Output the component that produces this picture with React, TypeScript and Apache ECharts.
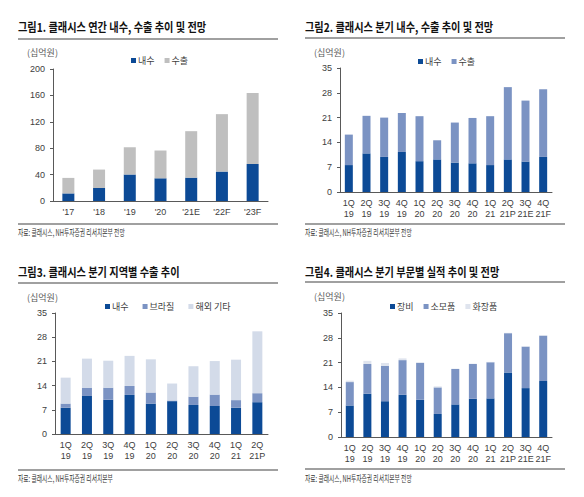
import React, { useEffect, useRef } from "react";
import * as echarts from "echarts";

const annualCats = ["'17", "'18", "'19", "'20", "'21E", "'22F", "'23F"];
const annualDomestic = [11.5, 19.7, 40, 34.4, 35.4, 44.6, 56.2];
const annualExport = [23.5, 27.9, 41.5, 42.1, 70.4, 87.0, 107.3];

const quarterCats = ["1Q\n19", "2Q\n19", "3Q\n19", "4Q\n19", "1Q\n20", "2Q\n20", "3Q\n20", "4Q\n20", "1Q\n21", "2Q\n21P", "3Q\n21E", "4Q\n21F"];
const qDomestic = [7.6, 10.9, 9.9, 11.3, 8.7, 9.2, 8.3, 8.1, 7.6, 9.2, 8.6, 9.9];
const qExport = [8.6, 10.6, 11.1, 11.0, 12.7, 5.4, 11.3, 12.8, 13.8, 20.4, 17.2, 19.1];

const regionCats = ["1Q\n19", "2Q\n19", "3Q\n19", "4Q\n19", "1Q\n20", "2Q\n20", "3Q\n20", "4Q\n20", "1Q\n21", "2Q\n21P"];
const regDomestic = [7.6, 11.0, 9.9, 11.3, 8.8, 9.5, 8.4, 8.1, 7.6, 9.2];
const regBrazil = [1.2, 2.4, 3.5, 2.6, 3.2, 0.2, 2.4, 3.3, 2.2, 2.6];
const regOther = [7.5, 8.4, 7.8, 8.7, 9.6, 4.9, 8.8, 9.7, 11.7, 17.9];

const segEquip = [8.9, 12.2, 10.1, 11.9, 10.5, 6.5, 9.2, 10.8, 10.9, 18.2, 13.8, 15.8];
const segConsum = [6.6, 8.4, 10.0, 9.8, 10.4, 7.5, 10.0, 9.8, 10.2, 11.1, 11.7, 12.8];
const segCosme = [0.4, 0.9, 0.8, 0.5, 0.2, 0.3, 0.1, 0.1, 0.1, 0.1, 0.1, 0.1];

const titles = [
  "그림1. 클래시스 연간 내수, 수출 추이 및 전망",
  "그림2. 클래시스 분기 내수, 수출 추이 및 전망",
  "그림3. 클래시스 분기 지역별 수출 추이",
  "그림4. 클래시스 분기 부문별 실적 추이 및 전망",
];
const sources = [
  "자료: 클래시스, NH투자증권 리서치본부 전망",
  "자료: 클래시스, NH투자증권 리서치본부 전망",
  "자료: 클래시스, NH투자증권 리서치본부",
  "자료: 클래시스, NH투자증권 리서치본부 전망",
];
const unitLabel = "(십억원)";

const DARK = "#0c4a96";
const MID = "#7b93c3";
const LIGHT = "#d3dbe9";
const GRAY = "#bfbfbf";
const KR = '"Noto Sans CJK KR", "Noto Sans", sans-serif';
const NUM = '"Liberation Sans", "Noto Sans CJK KR", sans-serif';

export default function App() {
  const ref = useRef<HTMLDivElement>(null);
  useEffect(() => {
    document.body.style.margin = "0";
    if (!ref.current) return;
    const chart = echarts.init(ref.current, null, { renderer: "svg" });

    const grids = [
      { left: 53, top: 69, width: 215, height: 132 },
      { left: 340, top: 68, width: 212, height: 124 },
      { left: 55, top: 313, width: 213, height: 121 },
      { left: 341, top: 313, width: 211, height: 124 },
    ];
    const catsList = [annualCats, quarterCats, regionCats, quarterCats];
    const axisColor = "#595959";
    const xAxis = catsList.map((cats, i) => ({
      type: "category",
      gridIndex: i,
      data: cats,
      axisLine: { lineStyle: { color: axisColor, width: 1 } },
      axisTick: { length: 3, lineStyle: { color: axisColor } },
      axisLabel: { fontSize: 9, color: "#404040", lineHeight: 11, margin: 5, fontFamily: NUM, interval: 0 },
    }));
    const yAxis = [0, 1, 2, 3].map((i) => ({
      type: "value",
      gridIndex: i,
      min: 0,
      max: i === 0 ? 200 : 35,
      interval: i === 0 ? 40 : 7,
      splitLine: { show: false },
      axisLine: { show: true, lineStyle: { color: axisColor, width: 1 } },
      axisTick: { show: true, length: 3, lineStyle: { color: axisColor } },
      axisLabel: { fontSize: 9, color: "#404040", margin: 8, fontFamily: NUM },
    }));

    const bar = (name: string, data: number[], idx: number, color: string, stack: string, w: number) => ({
      type: "bar",
      name,
      data,
      xAxisIndex: idx,
      yAxisIndex: idx,
      stack,
      barWidth: w,
      itemStyle: { color },
    });

    const series = [
      bar("내수", annualDomestic, 0, DARK, "a", 12),
      bar("수출", annualExport, 0, GRAY, "a", 12),
      bar("내수", qDomestic, 1, DARK, "b", 8),
      bar("수출", qExport, 1, MID, "b", 8),
      bar("내수", regDomestic, 2, DARK, "c", 10),
      bar("브라질", regBrazil, 2, MID, "c", 10),
      bar("해외 기타", regOther, 2, LIGHT, "c", 10),
      bar("장비", segEquip, 3, DARK, "d", 8),
      bar("소모품", segConsum, 3, MID, "d", 8),
      bar("화장품", segCosme, 3, "#dfe4ee", "d", 8),
    ];

    const legendBase = {
      icon: "rect",
      itemWidth: 5,
      itemHeight: 5,
      itemGap: 10,
      selectedMode: false,
      textStyle: { fontSize: 9, color: "#404040", fontFamily: KR, padding: [0, 0, 0, -3] },
    };
    const legend = [
      { ...legendBase, left: 126, top: 51, data: [{ name: "내수", itemStyle: { color: DARK } }, { name: "수출", itemStyle: { color: GRAY } }] },
      { ...legendBase, left: 413, top: 52, data: [{ name: "내수", itemStyle: { color: DARK } }, { name: "수출", itemStyle: { color: MID } }] },
      { ...legendBase, left: 100, top: 297, itemGap: 14, data: [{ name: "내수", itemStyle: { color: DARK } }, { name: "브라질", itemStyle: { color: MID } }, { name: "해외 기타", itemStyle: { color: LIGHT } }] },
      { ...legendBase, left: 385, top: 297, data: [{ name: "장비", itemStyle: { color: DARK } }, { name: "소모품", itemStyle: { color: MID } }, { name: "화장품", itemStyle: { color: "#dfe4ee" } }] },
    ];

    const panels = [
      { x: 18, titleY: 27, topLine: 39, unitX: 27, unitY: 52, bottomLine: 224, srcY: 232 },
      { x: 305, titleY: 27, topLine: 38, unitX: 314, unitY: 52, bottomLine: 224, srcY: 232 },
      { x: 18, titleY: 272, topLine: 283, unitX: 27, unitY: 297, bottomLine: 470, srcY: 478 },
      { x: 305, titleY: 272, topLine: 282, unitX: 314, unitY: 296, bottomLine: 469, srcY: 478 },
    ];
    const graphic: any[] = [];
    panels.forEach((p, i) => {
      graphic.push({
        type: "text",
        x: p.x,
        y: p.titleY,
        scaleX: 0.85,
        style: { text: titles[i], font: `bold 12px ${KR}`, fill: "#111111", textVerticalAlign: "middle", textAlign: "left" },
      });
      graphic.push({
        type: "line",
        shape: { x1: p.x, y1: p.topLine, x2: p.x + 260, y2: p.topLine },
        style: { stroke: "#808080", lineWidth: 1.5 },
      });
      graphic.push({
        type: "line",
        shape: { x1: p.x, y1: p.bottomLine, x2: p.x + 260, y2: p.bottomLine },
        style: { stroke: "#808080", lineWidth: 1.5 },
      });
      graphic.push({
        type: "text",
        x: p.unitX,
        y: p.unitY,
        style: { text: unitLabel, font: `9px ${KR}`, fill: "#595959", textVerticalAlign: "middle", textAlign: "left" },
      });
      graphic.push({
        type: "text",
        x: p.x,
        y: p.srcY,
        scaleX: 0.64,
        style: { text: sources[i], font: `9px ${KR}`, fill: "#333333", textVerticalAlign: "middle", textAlign: "left" },
      });
    });

    chart.setOption({
      animation: false,
      backgroundColor: "#ffffff",
      textStyle: { fontFamily: KR },
      grid: grids,
      xAxis,
      yAxis,
      legend,
      series,
      graphic,
    });
    return () => chart.dispose();
  }, []);
  return <div ref={ref} style={{ width: 584, height: 497 }} />;
}
